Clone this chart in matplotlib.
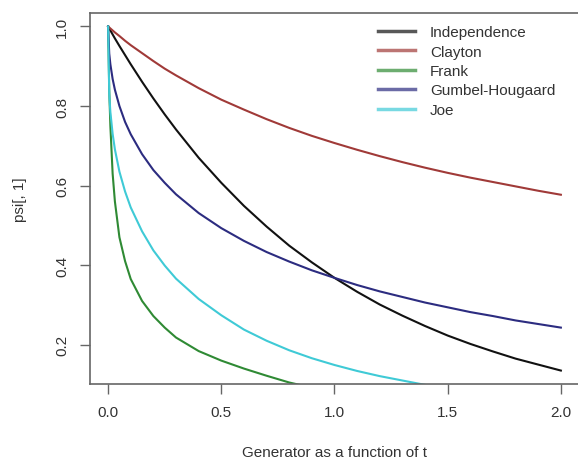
import matplotlib
matplotlib.use("Agg")
import matplotlib.pyplot as plt

t = [0, 0.005, 0.01, 0.02, 0.03, 0.05, 0.075, 0.1, 0.15, 0.2, 0.25, 0.3,
     0.4, 0.5, 0.6, 0.7, 0.8, 0.9, 1.0, 1.1, 1.2, 1.3, 1.4, 1.5, 1.6, 1.7,
     1.8, 1.9, 2.0]

independence = [1.0, 0.995, 0.990, 0.980, 0.970, 0.951, 0.928, 0.905, 0.861,
                0.819, 0.779, 0.741, 0.670, 0.607, 0.549, 0.497, 0.449, 0.407,
                0.368, 0.333, 0.301, 0.273, 0.247, 0.223, 0.202, 0.183, 0.165,
                0.150, 0.135]
clayton = [1.0, 0.9975, 0.995, 0.990, 0.985, 0.976, 0.964, 0.953, 0.933, 0.913,
           0.894, 0.877, 0.845, 0.816, 0.791, 0.767, 0.745, 0.725, 0.707,
           0.690, 0.674, 0.659, 0.645, 0.632, 0.620, 0.609, 0.598, 0.587, 0.577]
gumbel = [1.0, 0.932, 0.905, 0.868, 0.841, 0.800, 0.760, 0.729, 0.679, 0.639,
          0.607, 0.578, 0.531, 0.493, 0.461, 0.433, 0.409, 0.387, 0.368, 0.350,
          0.334, 0.320, 0.306, 0.294, 0.282, 0.272, 0.261, 0.252, 0.243]

# Frank and Joe run below the plot region and get clipped there
t_frank = [0, 0.005, 0.01, 0.02, 0.03, 0.05, 0.075, 0.1, 0.15, 0.2, 0.25,
           0.3, 0.4, 0.5, 0.6, 0.7, 0.8, 0.9]
frank = [1.0, 0.84, 0.75, 0.63, 0.56, 0.47, 0.41, 0.365, 0.31, 0.272, 0.243,
         0.218, 0.184, 0.16, 0.14, 0.122, 0.105, 0.092]

t_joe = [0, 0.005, 0.01, 0.02, 0.03, 0.05, 0.075, 0.1, 0.15, 0.2, 0.25, 0.3,
         0.4, 0.5, 0.6, 0.7, 0.8, 0.9, 1.0, 1.1, 1.2, 1.3, 1.4]
joe = [1.0, 0.83, 0.785, 0.73, 0.691, 0.635, 0.585, 0.545, 0.485, 0.437,
       0.399, 0.366, 0.315, 0.274, 0.238, 0.21, 0.186, 0.166, 0.149, 0.134,
       0.121, 0.110, 0.099]

labels = ["Independence", "Clayton", "Frank", "Gumbel-Hougaard", "Joe"]
colors = ["#111111", "#a03a38", "#2f8a34", "#2c2c80", "#3fcad6"]

plt.rcParams["font.family"] = ["Liberation Sans", "DejaVu Sans"]
text_col = "#333333"
axis_col = "#666666"

fig = plt.figure(figsize=(5.78, 4.6), dpi=100)
ax = fig.add_axes([0.1557, 0.1626, 0.846, 0.8076])

series = [(t, independence), (t, clayton), (t_frank, frank), (t, gumbel), (t_joe, joe)]
for (x, y), lab, c in zip(series, labels, colors):
    ax.plot(x, y, color=c, lw=1.5, label=lab)

ax.set_xlim(-0.08, 2.08)
ax.set_ylim(0.1007, 1.0346)
ax.set_xticks([0.0, 0.5, 1.0, 1.5, 2.0])
ax.set_xticklabels(["0.0", "0.5", "1.0", "1.5", "2.0"])
ax.set_yticks([0.2, 0.4, 0.6, 0.8, 1.0])
ax.set_yticklabels(["0.2", "0.4", "0.6", "0.8", "1.0"])

# box edge on the right sits just outside the picture
ax.spines["right"].set_visible(False)
for s in ax.spines.values():
    s.set_color(axis_col)
    s.set_linewidth(1.2)
ax.tick_params(axis="both", direction="out", length=7, width=1.0,
               color=axis_col, labelcolor=text_col, labelsize=11, pad=8)
ax.tick_params(axis="y", labelrotation=90)
for lbl in ax.get_yticklabels():
    lbl.set_va("center")

ax.set_xlabel("Generator as a function of t", fontsize=11, color=text_col, labelpad=19)
ax.set_ylabel("psi[, 1]", fontsize=11, color=text_col, labelpad=20)

leg = ax.legend(loc="upper left", bbox_to_anchor=(378 / 578, 1 - 26 / 460),
                bbox_transform=fig.transFigure, frameon=False, fontsize=11,
                handlelength=2.4, handletextpad=1.0, labelspacing=0.36,
                borderpad=0, borderaxespad=0)
for line in leg.get_lines():
    line.set_linewidth(2.5)
    line.set_alpha(0.7)
for txt in leg.get_texts():
    txt.set_color(text_col)

fig.savefig("out.png", dpi=100)
